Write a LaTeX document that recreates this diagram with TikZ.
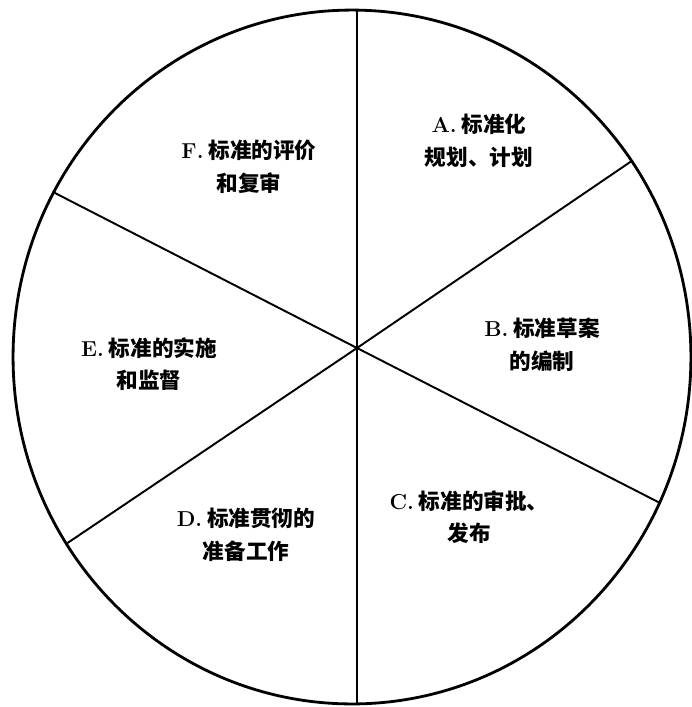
\documentclass[tikz,border=0pt]{standalone}
\usepackage{fontspec}
\newfontfamily\cjk{Noto Sans CJK SC}
\usepackage{tikz}

\begin{document}
\begin{tikzpicture}[x=0.02cm,y=-0.02cm]
			\tikzstyle{stage}=[align=center,inner sep=0pt,font=\fontsize{12.3}{18.6}\selectfont\cjk\bfseries]
			\tikzstyle{spoke}=[line width=1.1pt]
			\useasboundingbox (0,0) rectangle (691,707);
			\coordinate (o) at (357,348);
			\coordinate (top) at (357,10);
			\coordinate (bot) at (357,704);
			\coordinate (ul) at (53.6,192.3);
			\coordinate (lr) at (659.7,502.8);
			\coordinate (ur) at (631.1,161.4);
			\coordinate (ll) at (66.3,543.8);
			\draw[line width=1.6pt] (352,357) ellipse [x radius=6.78cm, y radius=6.94cm];
			\draw[spoke] (top) -- (o) -- (bot);
			\draw[spoke] (ul) -- (o) -- (lr);
			\draw[spoke] (ur) -- (o) -- (ll);
			
			\node (a)[stage] at (479,141) {\textrm{A.} 标准化\\规划、计划};
			\node (b)[stage] at (542,345) {\textrm{B.} 标准草案\\的编制};
			\node (c)[stage] at (469,517) {\textrm{C.} 标准的审批、\\发布};
			\node (d)[stage] at (246,535) {\textrm{D.} 标准贯彻的\\准备工作};
			\node (e)[stage] at (149,364) {\textrm{E.} 标准的实施\\和监督};
			\node (f)[stage] at (249,167) {\textrm{F.} 标准的评价\\和复审};

		\end{tikzpicture}
\end{document}
